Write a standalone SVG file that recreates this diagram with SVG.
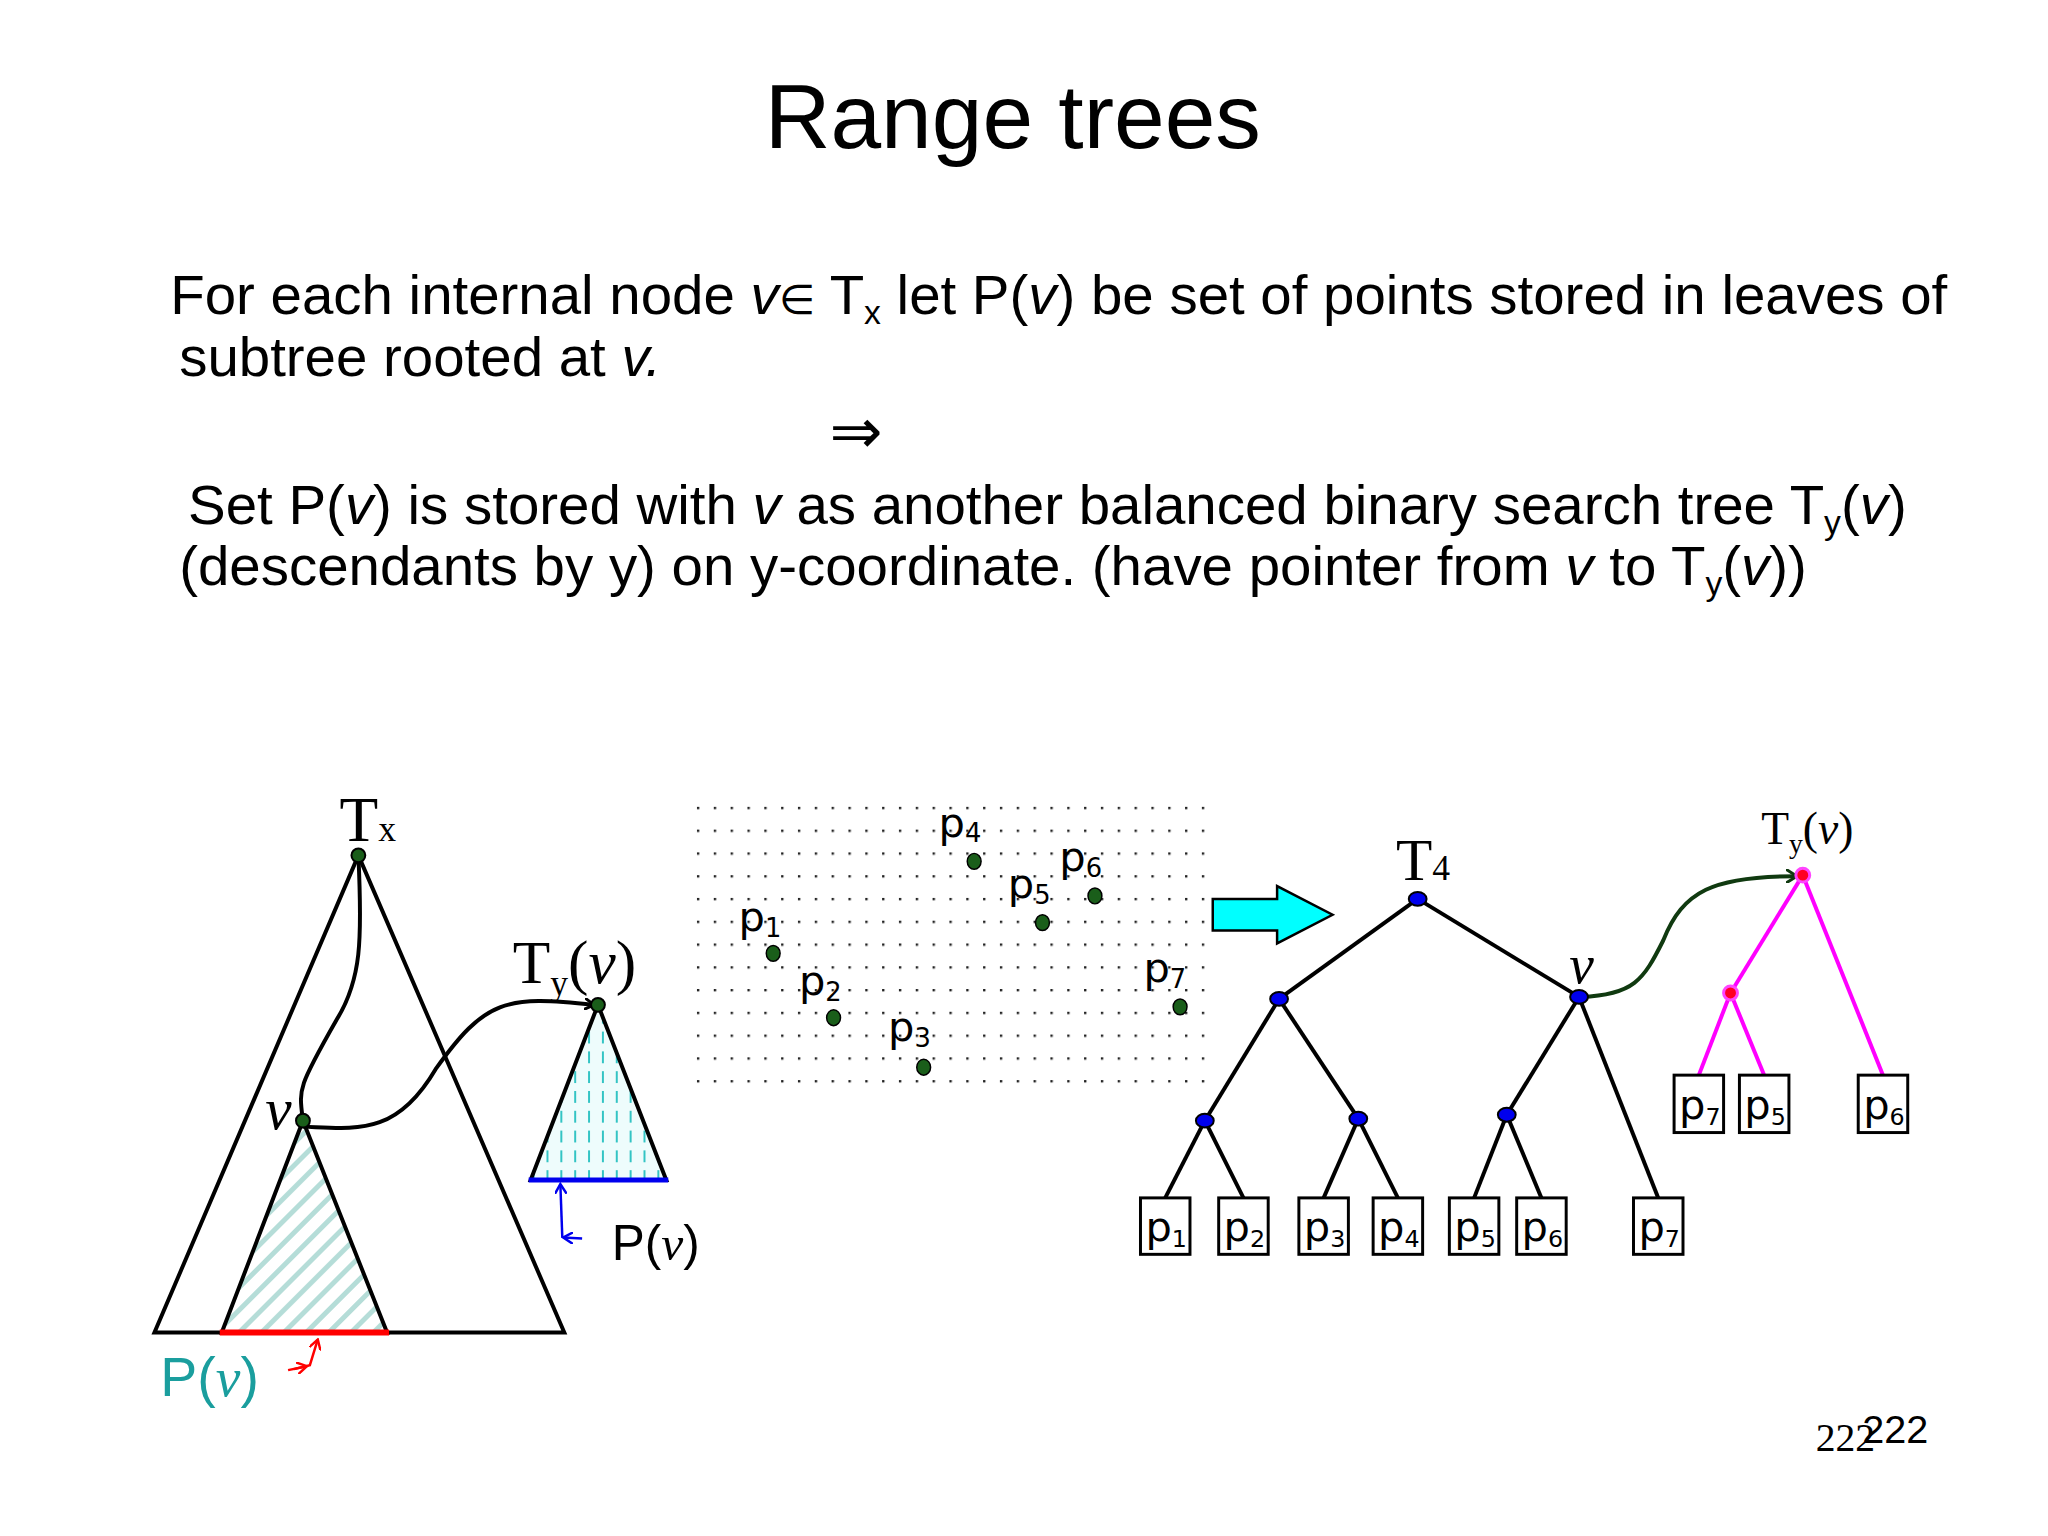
<svg xmlns="http://www.w3.org/2000/svg" width="2048" height="1536" viewBox="0 0 2048 1536">
<defs>
<style>
.s{font-family:"Liberation Sans",Arial,sans-serif}
.r{font-family:"Liberation Serif","Times New Roman",serif}
.ln{stroke:#000;stroke-width:4;fill:none}
.pk{stroke:#ff00ff;stroke-width:4;fill:none}
.bn{fill:#0000ee;stroke:#000;stroke-width:2}
.gn{fill:#1a5e1a;stroke:#000;stroke-width:2}
.rn{fill:#ff0022;stroke:#ff44ff;stroke-width:3}
.box{fill:#fff;stroke:#000;stroke-width:3}
.lb{font-family:"DejaVu Sans","Liberation Sans",sans-serif;font-size:42px}
</style>
<pattern id="dots" width="17" height="23" patternUnits="userSpaceOnUse"><rect x="7" y="10" width="2.4" height="2.4" fill="#222"/></pattern>
<pattern id="diag" width="16" height="16" patternUnits="userSpaceOnUse" patternTransform="rotate(45)"><rect width="16" height="16" fill="#fff"/><rect x="0" y="0" width="5" height="16" fill="#b5ddd8"/></pattern>
<pattern id="vdash" width="14" height="20" patternUnits="userSpaceOnUse"><rect width="14" height="20" fill="#eefcfc"/><rect x="6" y="2" width="2" height="12" fill="#33c4c4"/></pattern>
<marker id="ah" markerWidth="12" markerHeight="12" refX="10" refY="6" orient="auto" markerUnits="userSpaceOnUse"><path d="M0,0 L10,6 L0,12" fill="none" stroke="#000" stroke-width="3"/></marker>
<marker id="ahg" markerWidth="14" markerHeight="14" refX="11" refY="7" orient="auto" markerUnits="userSpaceOnUse"><path d="M0,0 L11,7 L0,14" fill="none" stroke="#103a10" stroke-width="3"/></marker>
<marker id="ahr" markerWidth="12" markerHeight="12" refX="10" refY="6" orient="auto" markerUnits="userSpaceOnUse"><path d="M0,0 L10,6 L0,12" fill="none" stroke="#f00" stroke-width="2.5"/></marker>
<marker id="ahb" markerWidth="12" markerHeight="12" refX="10" refY="6" orient="auto" markerUnits="userSpaceOnUse"><path d="M0,0 L10,6 L0,12" fill="none" stroke="#00e" stroke-width="2.5"/></marker>
</defs>
<rect width="2048" height="1536" fill="#fff"/>
<g transform="scale(0.99)">
<g id="title"><text class="s" x="1023" y="150" font-size="92" text-anchor="middle">Range trees</text></g>
<g id="body" class="s" font-size="57">
<text x="172" y="317">For each internal node <tspan font-style="italic">v</tspan><tspan font-family="DejaVu Sans" font-size="42">∈</tspan> T<tspan font-size="34" dy="10">x</tspan><tspan dy="-10"> let P(</tspan><tspan font-style="italic">v</tspan>) be set of points stored in leaves of</text>
<text x="181" y="380">subtree rooted at <tspan font-style="italic">v.</tspan></text>
<text x="838" y="458" font-family="DejaVu Sans" font-size="64">⇒</text>
<text x="190" y="529">Set P(<tspan font-style="italic">v</tspan>) is stored with <tspan font-style="italic">v</tspan> as another balanced binary search tree T<tspan font-size="34" dy="10">y</tspan><tspan dy="-10">(</tspan><tspan font-style="italic">v</tspan>)</text>
<text x="181" y="591">(descendants by y) on y-coordinate. (have pointer from <tspan font-style="italic">v</tspan> to T<tspan font-size="34" dy="10">y</tspan><tspan dy="-10">(</tspan><tspan font-style="italic">v</tspan>))</text>
</g>
<g id="bigTri"><polygon points="362,864 156,1346 570,1346" class="ln"/></g>
<g id="subTri"><polygon points="306,1132 224,1346 391,1346" fill="url(#diag)" stroke="#000" stroke-width="4"/><line x1="222" y1="1346" x2="393" y2="1346" stroke="#f00" stroke-width="6"/></g>
<g id="tyTri"><polygon points="604,1015 536,1192 673,1192" fill="url(#vdash)" stroke="#000" stroke-width="4"/><line x1="534" y1="1192" x2="675" y2="1192" stroke="#00e" stroke-width="5"/></g>
<g id="connectors">
<path d="M362,864 C366,950 365,990 340,1030 C300,1100 302,1100 306,1132" class="ln"/>
<path d="M306,1138 C360,1140 400,1148 440,1080 C490,1010 510,1005 600,1015" class="ln" marker-end="url(#ah)"/>
<polyline points="297,1383 313,1379 321,1353" fill="none" stroke="#f00" stroke-width="2.5" marker-end="url(#ahr)"/>
<line x1="291" y1="1384" x2="310" y2="1380" stroke="#f00" stroke-width="2.5" marker-end="url(#ahr)"/>
<polyline points="568,1250 566,1196" fill="none" stroke="#00e" stroke-width="2.5" marker-end="url(#ahb)"/>
<line x1="588" y1="1251" x2="569" y2="1250" stroke="#00e" stroke-width="2.5" marker-end="url(#ahb)"/>
<g class="ln"><line x1="1432" y1="908" x2="1292" y2="1009"/><line x1="1432" y1="908" x2="1595" y2="1007"/>
<line x1="1292" y1="1009" x2="1217" y2="1132"/><line x1="1292" y1="1009" x2="1372" y2="1130"/><line x1="1595" y1="1007" x2="1522" y2="1126"/><line x1="1595" y1="1007" x2="1675" y2="1210"/>
<line x1="1217" y1="1132" x2="1177" y2="1210"/><line x1="1217" y1="1132" x2="1256" y2="1210"/><line x1="1372" y1="1130" x2="1337" y2="1210"/><line x1="1372" y1="1130" x2="1412" y2="1210"/><line x1="1522" y1="1126" x2="1489" y2="1210"/><line x1="1522" y1="1126" x2="1557" y2="1210"/></g>
<path d="M1597,1007 C1650,1005 1660,990 1680,950 C1700,900 1730,885 1815,885" fill="none" stroke="#103a10" stroke-width="4" marker-end="url(#ahg)"/>
<g class="pk"><line x1="1821" y1="884" x2="1748" y2="1003"/><line x1="1821" y1="884" x2="1902" y2="1086"/><line x1="1748" y1="1003" x2="1716" y2="1086"/><line x1="1748" y1="1003" x2="1782" y2="1086"/></g>
</g>
<g id="nodeTx"><circle cx="362" cy="864" r="7" class="gn"/><text class="r" x="343" y="850" font-size="64">T<tspan font-size="36">x</tspan></text></g>
<g id="nodeV"><circle cx="306" cy="1132" r="7" class="gn"/><text class="r" x="268" y="1140" font-size="60" font-style="italic">v</text></g>
<g id="nodeTy"><circle cx="604" cy="1015" r="7" class="gn"/><text class="r" x="518" y="993" font-size="62">T<tspan font-size="36" dy="12">y</tspan><tspan dy="-12">(</tspan><tspan font-style="italic">v</tspan>)</text></g>
<g id="labelPvBlue"><text class="s" x="618" y="1273" font-size="50">P(<tspan class="r" font-style="italic">v</tspan>)</text></g>
<g id="labelPvTeal"><text class="s" x="162" y="1410" font-size="56" fill="#1a9e9e">P(<tspan class="r" font-style="italic">v</tspan>)</text></g>
<g id="pointset"><rect x="700" y="812" width="524" height="290" fill="url(#dots)"/>
<g fill="#1a5e1a" stroke="#000" stroke-width="1.5"><ellipse cx="781" cy="963" rx="7" ry="8"/><ellipse cx="842" cy="1028" rx="7" ry="8"/><ellipse cx="933" cy="1078" rx="7" ry="8"/><ellipse cx="984" cy="870" rx="7" ry="8"/><ellipse cx="1053" cy="932" rx="7" ry="8"/><ellipse cx="1106" cy="905" rx="7" ry="8"/><ellipse cx="1192" cy="1017" rx="7" ry="8"/></g>
<g class="lb"><text x="746" y="940">p<tspan font-size="26" dy="6">1</tspan></text><text x="807" y="1005">p<tspan font-size="26" dy="6">2</tspan></text><text x="897" y="1052">p<tspan font-size="26" dy="6">3</tspan></text><text x="948" y="845">p<tspan font-size="26" dy="6">4</tspan></text><text x="1018" y="907">p<tspan font-size="26" dy="6">5</tspan></text><text x="1070" y="880">p<tspan font-size="26" dy="6">6</tspan></text><text x="1155" y="992">p<tspan font-size="26" dy="6">7</tspan></text></g>
</g>
<g id="bigArrow"><polygon points="1225,908 1290,908 1290,895 1346,924 1290,953 1290,940 1225,940" fill="#00ffff" stroke="#000" stroke-width="2.5"/></g>
<g id="treeNodes">
<ellipse cx="1432" cy="908" rx="9" ry="7" class="bn"/><ellipse cx="1292" cy="1009" rx="9" ry="7" class="bn"/><ellipse cx="1595" cy="1007" rx="9" ry="7" class="bn"/><ellipse cx="1217" cy="1132" rx="9" ry="7" class="bn"/><ellipse cx="1372" cy="1130" rx="9" ry="7" class="bn"/><ellipse cx="1522" cy="1126" rx="9" ry="7" class="bn"/>
<text class="r" x="1410" y="889" font-size="60">T<tspan font-size="36">4</tspan></text>
<text class="r" x="1585" y="993" font-size="56" font-style="italic">v</text>
</g>
<g id="leaves" class="lb">
<rect x="1152" y="1210" width="50" height="57" class="box"/><text x="1157" y="1254">p<tspan font-size="24" dy="6">1</tspan></text>
<rect x="1231" y="1210" width="50" height="57" class="box"/><text x="1236" y="1254">p<tspan font-size="24" dy="6">2</tspan></text>
<rect x="1312" y="1210" width="50" height="57" class="box"/><text x="1317" y="1254">p<tspan font-size="24" dy="6">3</tspan></text>
<rect x="1387" y="1210" width="50" height="57" class="box"/><text x="1392" y="1254">p<tspan font-size="24" dy="6">4</tspan></text>
<rect x="1464" y="1210" width="50" height="57" class="box"/><text x="1469" y="1254">p<tspan font-size="24" dy="6">5</tspan></text>
<rect x="1532" y="1210" width="50" height="57" class="box"/><text x="1537" y="1254">p<tspan font-size="24" dy="6">6</tspan></text>
<rect x="1650" y="1210" width="50" height="57" class="box"/><text x="1655" y="1254">p<tspan font-size="24" dy="6">7</tspan></text>
</g>
<g id="tyTree">
<circle cx="1821" cy="884" r="7" class="rn"/><circle cx="1748" cy="1003" r="7" class="rn"/>
<text class="r" x="1779" y="853" font-size="46">T<tspan font-size="28" dy="9">y</tspan><tspan dy="-9">(</tspan><tspan font-style="italic">v</tspan>)</text>
<g class="lb"><rect x="1691" y="1086" width="50" height="58" class="box"/><text x="1696" y="1130">p<tspan font-size="24" dy="6">7</tspan></text>
<rect x="1757" y="1086" width="50" height="58" class="box"/><text x="1762" y="1130">p<tspan font-size="24" dy="6">5</tspan></text>
<rect x="1877" y="1086" width="50" height="58" class="box"/><text x="1882" y="1130">p<tspan font-size="24" dy="6">6</tspan></text></g>
</g>
<g id="pagenum"><text class="r" x="1834" y="1466" font-size="40">222</text><text class="s" x="1881" y="1458" font-size="40">222</text></g>
</g>
</svg>
